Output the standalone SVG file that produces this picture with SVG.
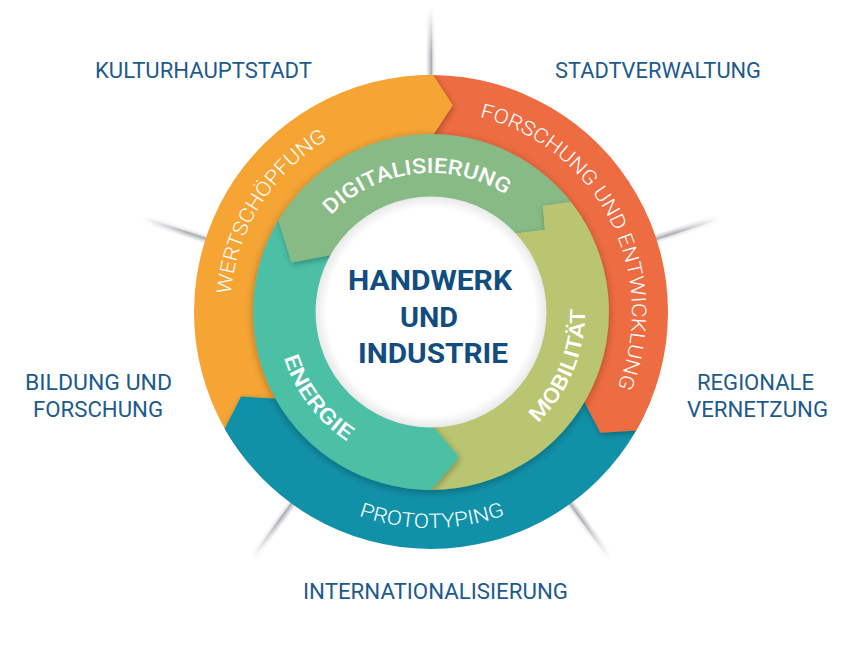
<svg xmlns="http://www.w3.org/2000/svg" xmlns:xlink="http://www.w3.org/1999/xlink" width="848" height="662" viewBox="0 0 848 662">
<style>
.lbl{font-family:Roboto,"Liberation Sans",sans-serif;font-size:21.5px;font-weight:400;fill:#1d5a8d}
.rl{font-family:Roboto,"Liberation Sans",sans-serif;font-size:20px;font-weight:300;fill:#ffffff}
.il{font-family:Roboto,"Liberation Sans",sans-serif;font-size:21px;font-weight:500;fill:#ffffff}
.ct{font-family:Roboto,"Liberation Sans",sans-serif;font-size:28px;font-weight:700;fill:#114d80}
.or{fill:#f6a535}.rd{fill:#ee6c42}.tl{fill:#1191a8}
.gr{fill:#87ba85}.en{fill:#4bc0a5}.li{fill:#b9c56f}
</style>
<defs>
<linearGradient id="spH" gradientUnits="userSpaceOnUse" x1="426" y1="0" x2="436" y2="0">
<stop offset="0" stop-color="#ffffff"/>
<stop offset="0.3" stop-color="#d3d5d8"/>
<stop offset="0.55" stop-color="#a9acb1"/>
<stop offset="0.7" stop-color="#e6e7e9"/>
<stop offset="1" stop-color="#ffffff"/>
</linearGradient>
<linearGradient id="spF" gradientUnits="userSpaceOnUse" x1="0" y1="8" x2="0" y2="55">
<stop offset="0" stop-color="#ffffff" stop-opacity="1"/>
<stop offset="1" stop-color="#ffffff" stop-opacity="0"/>
</linearGradient>
<g id="spoke">
<rect x="426" y="8" width="10" height="74" fill="url(#spH)"/>
<rect x="424" y="6" width="14" height="50" fill="url(#spF)"/>
</g>
<radialGradient id="wc" cx="431" cy="312" r="115.5" gradientUnits="userSpaceOnUse">
<stop offset="0" stop-color="#ffffff"/>
<stop offset="0.9" stop-color="#ffffff"/>
<stop offset="1" stop-color="#e9e9e9"/>
</radialGradient>
<filter id="sh" x="-50%" y="-50%" width="200%" height="200%">
<feDropShadow dx="1" dy="2" stdDeviation="3" flood-color="#000" flood-opacity="0.3"/>
</filter>
<filter id="ringSh" filterUnits="userSpaceOnUse" x="220" y="100" width="420" height="420">
<feDropShadow dx="0" dy="2" stdDeviation="4" flood-color="#000" flood-opacity="0.3"/>
</filter>
<clipPath id="cO"><circle cx="431" cy="312" r="237"/></clipPath>
<clipPath id="cI"><circle cx="431" cy="312" r="178"/></clipPath>
<path id="pW" d="M 230.76,294.48 A 201 201 0 0 1 327.48,139.71"/>
<path id="pF" d="M 479.63,116.97 A 201 201 0 0 1 617.36,387.30"/>
<path id="pP" d="M 358.90,515.61 A 216 216 0 0 0 504.88,514.97"/>
<path id="pD" d="M 331.01,215.44 A 139 139 0 0 1 505.68,194.77"/>
<path id="pE" d="M 283.89,357.54 A 154 154 0 0 0 346.90,441.01"/>
<path id="pM" d="M 537.78,422.96 A 154 154 0 0 0 584.97,309.04"/>
</defs>
<rect width="848" height="662" fill="#ffffff"/>

<g id="connectors">
<use xlink:href="#spoke" href="#spoke"/>
<use xlink:href="#spoke" href="#spoke" transform="rotate(72 431 312)"/>
<use xlink:href="#spoke" href="#spoke" transform="rotate(144 431 312)"/>
<use xlink:href="#spoke" href="#spoke" transform="rotate(216 431 312)"/>
<use xlink:href="#spoke" href="#spoke" transform="rotate(288 431 312)"/>
</g>

<g id="outer-ring">
<path class="or" d="M 224.73,428.70 A 237 237 0 0 1 433.07,75.01 L 432.48,142.01 A 170 170 0 0 0 283.04,395.71 Z"/>
<path class="rd" d="M 433.07,75.01 A 237 237 0 0 1 636.25,430.5 L 578.22,397 A 170 170 0 0 0 432.48,142.01 Z"/>
<path class="tl" d="M 636.25,430.5 A 237 237 0 0 1 224.73,428.70 L 283.04,395.71 A 170 170 0 0 0 578.22,397 Z"/>
<g clip-path="url(#cO)">
<polygon class="or" filter="url(#sh)" points="420.66,75.23 433.07,75.01 452.74,105.14 432.54,136.01 432.48,142.01 423.58,142.16"/>
<path class="or" d="M 400.07,77.03 A 237 237 0 0 1 433.07,75.01 L 432.48,142.01 A 170 170 0 0 0 408.81,143.45 Z"/>
<polygon class="rd" filter="url(#sh)" points="642.17,419.60 636.25,430.5 600.34,432.79 583.42,400 578.22,397 582.47,389.18"/>
<path class="rd" d="M 650.74,400.78 A 237 237 0 0 1 636.25,430.5 L 578.22,397 A 170 170 0 0 0 588.62,375.68 Z"/>
<polygon class="tl" filter="url(#sh)" points="231.12,439.34 224.73,428.70 240.98,396.60 277.82,398.67 283.04,395.71 287.62,403.34"/>
<path class="tl" d="M 242.98,456.28 A 237 237 0 0 1 224.73,428.70 L 283.04,395.71 A 170 170 0 0 0 296.13,415.49 Z"/>
</g>
</g>

<g id="node-wertschoepfung"><text class="rl"><textPath href="#pW" xlink:href="#pW" textLength="189.4" lengthAdjust="spacingAndGlyphs">WERTSCHÖPFUNG</textPath></text></g>
<g id="node-forschung-entwicklung"><text class="rl"><textPath href="#pF" xlink:href="#pF" textLength="343.8" lengthAdjust="spacingAndGlyphs">FORSCHUNG UND ENTWICKLUNG</textPath></text></g>
<g id="node-prototyping"><text class="rl"><textPath href="#pP" xlink:href="#pP" textLength="148.9" lengthAdjust="spacingAndGlyphs">PROTOTYPING</textPath></text></g>

<g id="inner-ring" filter="url(#ringSh)">
<path class="gr" d="M 278.42,220.32 A 178 178 0 0 1 576.81,209.90 L 522.75,247.76 A 112 112 0 0 0 335.00,254.32 Z"/>
<path class="en" d="M 431,490 A 178 178 0 0 1 278.42,220.32 L 335.00,254.32 A 112 112 0 0 0 431,424 Z"/>
<path class="li" d="M 431,490 A 178 178 0 0 0 570.8,201.9 L 543,206 L 545,230 L 511.75,234 A 112 112 0 0 1 431,424 Z"/>
<g clip-path="url(#cI)">
<polygon class="gr" filter="url(#sh)" points="283.43,212.46 278.42,220.32 291.49,262.60 335.00,254.32 338.15,249.37"/>
<path class="gr" d="M 278.42,220.32 A 178 178 0 0 1 292.67,199.98 L 343.96,241.52 A 112 112 0 0 0 335.00,254.32 Z"/>
<polygon class="en" filter="url(#sh)" points="421.68,489.76 431,490 459.24,457.28 431,424 425.14,423.85"/>
<path class="en" d="M 431,490 A 178 178 0 0 1 406.23,488.27 L 415.41,422.91 A 112 112 0 0 0 431,424 Z"/>
<polygon class="li" filter="url(#sh)" points="570.8,201.9 543,206 545,230 511.75,234 525.98,252.65 581.95,217.67"/>
<path class="li" d="M 590.99,233.97 A 178 178 0 0 0 570.8,201.9 L 543,206 L 545,230 L 511.75,234 A 112 112 0 0 1 531.66,262.90 Z"/>
</g>
</g>

<g id="node-digitalisierung"><text class="il"><textPath href="#pD" xlink:href="#pD" textLength="190.4" lengthAdjust="spacingAndGlyphs">DIGITALISIERUNG</textPath></text></g>
<g id="node-energie"><text class="il"><textPath href="#pE" xlink:href="#pE" textLength="106.7" lengthAdjust="spacingAndGlyphs">ENERGIE</textPath></text></g>
<g id="node-mobilitaet"><text class="il"><textPath href="#pM" xlink:href="#pM" textLength="126.9" lengthAdjust="spacingAndGlyphs">MOBILITÄT</textPath></text></g>

<g id="node-center">
<circle cx="431" cy="312" r="115.5" fill="url(#wc)"/>
<text class="ct" x="348" y="290" textLength="164" lengthAdjust="spacingAndGlyphs">HANDWERK</text>
<text class="ct" x="400" y="327" textLength="58" lengthAdjust="spacingAndGlyphs">UND</text>
<text class="ct" x="358" y="363" textLength="150" lengthAdjust="spacingAndGlyphs">INDUSTRIE</text>
</g>

<g id="node-kulturhauptstadt"><text class="lbl" x="95" y="78" textLength="217" lengthAdjust="spacingAndGlyphs">KULTURHAUPTSTADT</text></g>
<g id="node-stadtverwaltung"><text class="lbl" x="555" y="78" textLength="206" lengthAdjust="spacingAndGlyphs">STADTVERWALTUNG</text></g>
<g id="node-bildung"><text class="lbl" x="25" y="390" textLength="147" lengthAdjust="spacingAndGlyphs">BILDUNG UND</text><text class="lbl" x="33" y="417" textLength="130" lengthAdjust="spacingAndGlyphs">FORSCHUNG</text></g>
<g id="node-regionale"><text class="lbl" x="697" y="390" textLength="117" lengthAdjust="spacingAndGlyphs">REGIONALE</text><text class="lbl" x="687" y="417" textLength="141" lengthAdjust="spacingAndGlyphs">VERNETZUNG</text></g>
<g id="node-internationalisierung"><text class="lbl" x="303" y="599" textLength="265" lengthAdjust="spacingAndGlyphs">INTERNATIONALISIERUNG</text></g>
</svg>
